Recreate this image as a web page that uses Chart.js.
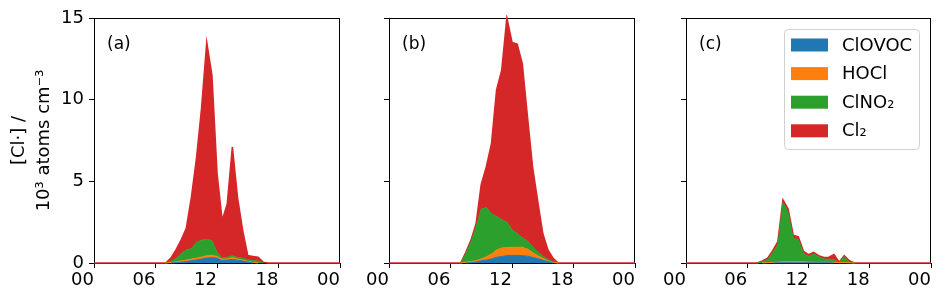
<!DOCTYPE html>
<html>
<head>
<meta charset="utf-8">
<script src="https://cdn.jsdelivr.net/npm/chart.js@4.4.1/dist/chart.umd.min.js"></script>
<style>
  body { margin: 0; background: #fff; }
  #wrap { position: relative; width: 945px; height: 298px; }
  canvas { position: absolute; top: 0; }
</style>
</head>
<body>
<div id="wrap">
  <canvas id="panel-a" width="345" height="298" style="left:0px"></canvas>
  <canvas id="panel-b" width="295" height="298" style="left:345px"></canvas>
  <canvas id="panel-c" width="305" height="298" style="left:640px"></canvas>
</div>
<script>
// hours of day
const hours = [0, 7, 7.5, 8, 8.5, 9, 9.5, 10, 10.5, 11, 11.5, 12, 12.5, 13, 13.5, 14, 14.5, 15, 15.5, 16, 16.5, 17, 24];
const xTickLabels = ['00', '06', '12', '18', '00'];
const yTicks = [0, 5, 10, 15];
const seriesNames = ['ClOVOC', 'HOCl', 'ClNO₂', 'Cl₂'];
const seriesColors = ['#1f77b4', '#ff7f0e', '#2ca02c', '#d62728'];

// (a)
const aClOVOC = [0, 0, 0, 0.02, 0.05, 0.09, 0.14, 0.19, 0.24, 0.3, 0.33, 0.29, 0.15, 0.18, 0.22, 0.17, 0.12, 0.06, 0, 0, 0, 0, 0];
const aHOCl   = [0, 0, 0.03, 0.06, 0.08, 0.09, 0.1, 0.11, 0.13, 0.15, 0.15, 0.11, 0.08, 0.07, 0.11, 0.08, 0.07, 0.04, 0.04, 0, 0, 0, 0];
const aClNO2  = [0, 0, 0.07, 0.2, 0.42, 0.62, 0.64, 0.95, 1.03, 1.0, 0.9, 0.25, 0.07, 0.1, 0.12, 0.09, 0.11, 0.09, 0.11, 0.12, 0, 0, 0];
const aCl2    = [0, 0, 0.2, 0.52, 0.85, 1.3, 3.12, 5.15, 8.1, 12.05, 10.12, 4.85, 2.3, 3.25, 6.65, 3.66, 1.7, 0.26, 0.25, 0.23, 0.05, 0, 0];

// (b)
const bClOVOC = [0, 0, 0, 0.02, 0.06, 0.14, 0.18, 0.25, 0.35, 0.4, 0.45, 0.47, 0.47, 0.45, 0.42, 0.35, 0.27, 0.18, 0.08, 0, 0, 0, 0];
const bHOCl   = [0, 0, 0.05, 0.08, 0.08, 0.11, 0.2, 0.3, 0.45, 0.52, 0.5, 0.49, 0.49, 0.51, 0.43, 0.3, 0.18, 0.11, 0.04, 0.03, 0, 0, 0];
const bClNO2  = [0, 0, 0.5, 1.2, 2.06, 3.05, 3.02, 2.45, 2.05, 1.73, 1.55, 1.09, 0.84, 0.59, 0.5, 0.35, 0.25, 0.13, 0.1, 0.05, 0, 0, 0];
const bCl2    = [0, 0, 0.1, 0.1, 0.2, 1.5, 2.5, 4.3, 7.75, 9.15, 12.5, 11.45, 11.6, 10.65, 7.65, 4.9, 3.1, 1.38, 0.58, 0.21, 0, 0, 0];

// (c)
const cClOVOC = [0, 0, 0, 0, 0, 0.01, 0.01, 0.01, 0.01, 0.01, 0.01, 0.01, 0.01, 0.01, 0.01, 0.01, 0, 0, 0, 0, 0, 0, 0];
const cHOCl   = [0, 0, 0, 0.02, 0.04, 0.05, 0.06, 0.07, 0.07, 0.07, 0.06, 0.05, 0.05, 0.04, 0.04, 0.04, 0.04, 0.02, 0.02, 0.01, 0, 0, 0];
const cClNO2  = [0, 0, 0.08, 0.18, 0.61, 1.04, 3.63, 3.02, 1.42, 1.37, 0.53, 0.34, 0.49, 0.33, 0.2, 0.17, 0.16, 0, 0.36, 0.04, 0, 0, 0];
const cCl2    = [0, 0, 0.04, 0.1, 0.1, 0.2, 0.15, 0.2, 0.2, 0.15, 0.12, 0.1, 0.1, 0.07, 0.08, 0.13, 0.32, 0.03, 0.07, 0.09, 0, 0, 0];

const FONT = 'DejaVu Sans';

// axes frame + panel letter
const framePlugin = {
  id: 'frame',
  beforeDatasetsDraw(chart, args, opts) {
    const { ctx, chartArea: a } = chart;
    ctx.save();
    ctx.strokeStyle = '#000';
    ctx.lineWidth = 1;
    ctx.strokeRect(Math.round(a.left) + 0.5, Math.round(a.top) + 0.5,
                   Math.round(a.right - a.left) - 1, Math.round(a.bottom - a.top));
    ctx.restore();
  },
  afterDatasetsDraw(chart, args, opts) {
    const { ctx, chartArea: a } = chart;
    ctx.save();
    ctx.fillStyle = '#000';
    ctx.font = '17px "' + FONT + '"';
    ctx.textBaseline = 'middle';
    ctx.fillText(opts.label, a.left + 13, a.top + 27);
    ctx.restore();
  }
};

// legend drawn inside the axes, top right
const boxLegendPlugin = {
  id: 'boxLegend',
  afterDatasetsDraw(chart, args, opts) {
    if (!opts.show) return;
    const { ctx, chartArea: a } = chart;
    const w = 135, h = 120;
    const x0 = a.right - 12 - w, y0 = a.top + 11;
    ctx.save();
    ctx.beginPath();
    ctx.roundRect(x0 + 0.5, y0 + 0.5, w, h, 4);
    ctx.fillStyle = 'rgba(255,255,255,0.8)';
    ctx.fill();
    ctx.strokeStyle = '#d0d0d0';
    ctx.lineWidth = 1;
    ctx.stroke();
    ctx.font = '18px "' + FONT + '"';
    ctx.textBaseline = 'middle';
    seriesNames.forEach((name, i) => {
      const cy = y0 + 16 + i * 28.6;
      ctx.fillStyle = seriesColors[i];
      ctx.fillRect(x0 + 7, cy - 6.5, 37, 13);
      ctx.fillStyle = '#000';
      ctx.fillText(name, x0 + 58, cy + 1);
    });
    ctx.restore();
  }
};

function makePanel(canvasId, label, values, opts) {
  const datasets = values.map((vals, i) => ({
    label: seriesNames[i],
    data: hours.map((h, k) => ({ x: h, y: vals[k] })),
    backgroundColor: seriesColors[i],
    borderColor: seriesColors[i],
    borderWidth: i === 3 ? 1.6 : 1,
    fill: i === 0 ? 'origin' : '-1',
    pointRadius: 0,
    tension: 0,
    clip: 3,
    segment: i === 3 ? undefined : {
      borderColor: ctx => (ctx.p0.parsed.y === 0 && ctx.p1.parsed.y === 0) ? 'rgba(0,0,0,0)' : undefined
    },
  }));

  new Chart(document.getElementById(canvasId), {
    type: 'line',
    data: { datasets },
    options: {
      responsive: false,
      animation: false,
      devicePixelRatio: 1,
      layout: { padding: { left: 0, right: opts.padRight, top: 18, bottom: 0 } },
      plugins: {
        legend: { display: false },
        tooltip: { enabled: false },
        frame: { label },
        boxLegend: { show: !!opts.legend },
      },
      scales: {
        x: {
          type: 'linear',
          min: 0,
          max: 24,
          afterBuildTicks: s => { s.ticks = xTickLabels.map((t, i) => ({ value: i * 6 })); },
          afterFit: s => { s.height = 35; },
          border: { display: false },
          grid: { drawOnChartArea: false, drawTicks: true, tickLength: 5, color: '#000', tickColor: '#000' },
          ticks: {
            align: 'end',
            padding: 2,
            color: '#000',
            font: { family: FONT, size: 18 },
            maxRotation: 0,
            autoSkip: false,
            callback: v => xTickLabels[Math.round(v / 6)],
          },
        },
        y: {
          stacked: true,
          min: 0,
          max: 15,
          afterBuildTicks: s => { s.ticks = yTicks.map(v => ({ value: v })); },
          afterFit: s => { s.width = opts.yWidth; },
          border: { display: false },
          grid: { drawOnChartArea: false, drawTicks: true, tickLength: 5, color: '#000', tickColor: '#000' },
          ticks: {
            display: !!opts.yLabels,
            padding: 5,
            color: '#000',
            font: { family: FONT, size: 18 },
          },
          title: {
            display: !!opts.yLabels,
            text: ['[Cl·] /', '10³ atoms cm⁻³'],
            color: '#000',
            font: { family: FONT, size: 18, lineHeight: 1.4 },
            padding: { top: 7, bottom: 0 },
          },
        },
      },
    },
    plugins: [framePlugin, boxLegendPlugin],
  });
}

makePanel('panel-a', '(a)', [aClOVOC, aHOCl, aClNO2, aCl2], { yWidth: 94, padRight: 5, yLabels: true });
makePanel('panel-b', '(b)', [bClOVOC, bHOCl, bClNO2, bCl2], { yWidth: 44, padRight: 5 });
makePanel('panel-c', '(c)', [cClOVOC, cHOCl, cClNO2, cCl2], { yWidth: 46, padRight: 14, legend: true });
</script>
</body>
</html>
